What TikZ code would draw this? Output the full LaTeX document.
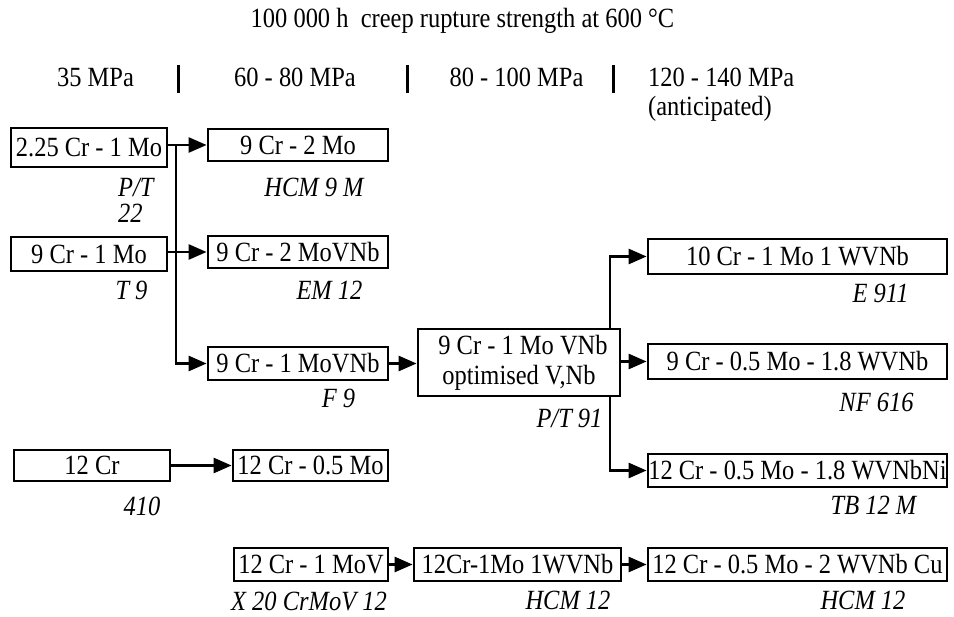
\documentclass[tikz,border=0pt]{standalone}
\usepackage{fontspec}
\setmainfont{Liberation Serif}[FakeStretch=0.88]
\usetikzlibrary{arrows.meta}
\begin{document}
\begin{tikzpicture}[x=1pt,y=-1pt,
  every node/.style={font=\fontsize{27.8}{30}\selectfont},
  box/.style={draw, line width=2.8pt, inner sep=0pt, align=center},
  lbl/.style={anchor=base, inner sep=0pt, font=\fontsize{27.8}{30}\selectfont\itshape},
  hdr/.style={anchor=base, inner sep=0pt},
  arr/.style={line width=2.6pt, -{Triangle[length=18pt,width=15pt]}},
  bar/.style={line width=3pt}]
\fill[white] (0,0) rectangle (954,617);
\useasboundingbox (0,0) rectangle (954,617);

% header
\node[hdr] (title) at (462.5,28) {100 000 h\ \ creep rupture strength at 600 °C};
\node[hdr] (h1) at (95.5,87) {35 MPa};
\node[hdr] (h2) at (295,87) {60 - 80 MPa};
\node[hdr] (h3) at (516.5,87) {80 - 100 MPa};
\node[hdr, anchor=base west] (h4) at (648,87) {120 - 140 MPa};
\node[hdr, anchor=base west] (h5) at (648,116) {(anticipated)};
\draw[bar] (178,65) -- (178,93);
\draw[bar] (407,65) -- (407,93);
\draw[bar] (613,65) -- (613,93);

% boxes
\node[box, minimum width=156, minimum height=39] (A) at (89,147.5) {2.25 Cr - 1 Mo};
\node[box, minimum width=180, minimum height=32] (B) at (298,145) {9 Cr - 2 Mo};
\node[box, minimum width=156, minimum height=34] (C) at (89,254) {9 Cr - 1 Mo};
\node[box, minimum width=180, minimum height=32] (D) at (298,252) {9 Cr - 2 MoVNb};
\node[box, minimum width=180, minimum height=33] (E) at (298,363.5) {9 Cr - 1 MoVNb};
\node[box, minimum width=202, minimum height=67] (F) at (519,362.5) {\hspace*{8pt}9 Cr - 1 Mo VNb\\optimised V,Nb};
\node[box, minimum width=156, minimum height=31] (G) at (92,465.5) {12 Cr};
\node[box, minimum width=155, minimum height=31] (H) at (310.5,465.5) {12 Cr - 0.5 Mo};
\node[box, minimum width=154, minimum height=33] (I) at (311,564.5) {12 Cr - 1 MoV};
\node[box, minimum width=207, minimum height=33] (J) at (517.5,564.5) {12Cr-1Mo 1WVNb};
\node[box, minimum width=299, minimum height=35] (K) at (797.5,256.5) {10 Cr - 1 Mo 1 WVNb};
\node[box, minimum width=299, minimum height=35] (L) at (797.5,361.5) {9 Cr - 0.5 Mo - 1.8 WVNb};
\node[box, minimum width=299, minimum height=33] (M) at (797.5,470.5) {12 Cr - 0.5 Mo - 1.8 WVNbNi};
\node[box, minimum width=299, minimum height=33] (N) at (797.5,564.5) {12 Cr - 0.5 Mo - 2 WVNb Cu};

% labels
\node[lbl, anchor=base west] (lA1) at (118,197) {P/T};
\node[lbl, anchor=base west] (lA2) at (118,223) {22};
\node[lbl] (lB) at (314,197) {HCM 9 M};
\node[lbl] (lC) at (131.5,300) {T 9};
\node[lbl] (lD) at (329.5,300) {EM 12};
\node[lbl] (lE) at (338.5,408) {F 9};
\node[lbl] (lF) at (569.5,428) {P/T 91};
\node[lbl] (lG) at (142,516) {410};
\node[lbl] (lI) at (309,610) {X 20 CrMoV 12};
\node[lbl] (lJ) at (568,609) {HCM 12};
\node[lbl] (lK) at (880.5,303) {E 911};
\node[lbl] (lL) at (876.5,412) {NF 616};
\node[lbl] (lM) at (873.5,515) {TB 12 M};
\node[lbl] (lN) at (863,609) {HCM 12};

% connectors
\coordinate (tr) at (176,0);
\coordinate (fx) at (610,0);
\draw[arr] (B.west -| A.east) -- (B.west);
\draw[arr] (D.west -| C.east) -- (D.west);
\draw[arr] (B.west -| tr) |- (E.west);
\draw[arr] (E.east) -- (E.east -| F.west);
\draw[arr] (F.north -| fx) |- (K.west);
\draw[arr] (L.west -| F.east) -- (L.west);
\draw[arr] (F.south -| fx) |- (M.west);
\draw[arr] (G.east) -- (H.west);
\draw[arr] (I.east) -- (J.west);
\draw[arr] (J.east) -- (N.west);
\end{tikzpicture}
\end{document}
